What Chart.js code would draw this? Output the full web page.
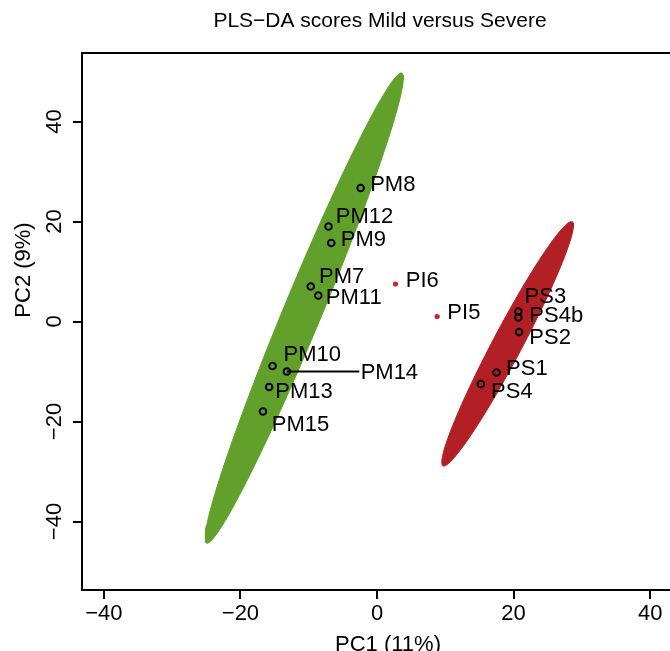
<!DOCTYPE html>
<html>
<head>
<meta charset="utf-8">
<script src="https://cdn.jsdelivr.net/npm/chart.js@4.4.1/dist/chart.umd.min.js"></script>
<style>
  html, body { margin: 0; padding: 0; background: #fff; overflow: hidden; width: 670px; height: 651px; }
  canvas { display: block; }
</style>
</head>
<body>
<canvas id="scoresChart" width="710" height="651"></canvas>
<script>
// sample scores (PC1, PC2)
const mildLabels = ['PM8', 'PM12', 'PM9', 'PM7', 'PM11', 'PM10', 'PM14', 'PM13', 'PM15'];
const mildX = [-2.4, -7.1, -6.7, -9.7, -8.6, -15.3, -13.2, -15.8, -16.7];
const mildY = [26.7, 19.0, 15.7, 7.0, 5.2, -8.9, -10.0, -13.1, -18.0];

const interLabels = ['PI6', 'PI5'];
const interX = [2.7, 8.8];
const interY = [7.5, 1.0];

const severeLabels = ['PS3', 'PS4b', 'PS2', 'PS1', 'PS4'];
const severeX = [20.7, 20.7, 20.8, 17.5, 15.2];
const severeY = [2.0, 0.8, -2.1, -10.2, -12.5];

// where the text labels ended up (left edge, middle), in PC units
const mildTextX = [-1.0, -6.05, -5.3, -8.5, -7.5, -13.7, -2.4, -14.9, -15.4];
const mildTextY = [27.3, 20.9, 16.3, 9.0, 4.8, -6.7, -10.2, -14.0, -20.7];
const interTextX = [4.2, 10.3];
const interTextY = [8.2, 1.7];
const severeTextX = [21.6, 22.3, 22.3, 18.9, 16.7];
const severeTextY = [5.0, 1.1, -3.3, -9.5, -14.0];

// PM14 label was pushed away, line goes to here
const pm14LineEnd = [-2.6, -10.0];

// group ellipses: centre, half major axis, half minor axis (PC units)
const mildCenter = [-10.67, 2.68];
const mildMajor = [14.29, 47.0];
const mildMinor = [2.57, -1.46];
const severeCenter = [19.12, -4.46];
const severeMajor = [9.45, 24.4];
const severeMinor = [1.89, -1.36];

const xTicks = [-40, -20, 0, 20, 40];
const yTicks = [-40, -20, 0, 20, 40];

const FONT = '22px "Liberation Sans", Arial, sans-serif';

function toPoints(xs, ys) {
    return xs.map((x, i) => ({ x: x, y: ys[i] }));
}

function ellipseOutline(c, a, b) {
    const pts = [];
    const n = 120;
    for (let i = 0; i <= n; i++) {
        const t = (i / n) * Math.PI * 2;
        pts.push({
            x: c[0] + a[0] * Math.cos(t) + b[0] * Math.sin(t),
            y: c[1] + a[1] * Math.cos(t) + b[1] * Math.sin(t)
        });
    }
    return pts;
}

function tickText(v) {
    return v < 0 ? '\u2212' + Math.abs(v) : String(v);
}

const framePlugin = {
    id: 'frame',
    afterDatasetsDraw(chart) {
        const ctx = chart.ctx;
        const xs = chart.scales.x;
        const ys = chart.scales.y;
        const area = chart.chartArea;

        ctx.save();
        ctx.fillStyle = '#000';
        ctx.font = FONT;
        ctx.textAlign = 'left';
        ctx.textBaseline = 'middle';
        mildLabels.forEach((l, i) => ctx.fillText(l, xs.getPixelForValue(mildTextX[i]), ys.getPixelForValue(mildTextY[i])));
        interLabels.forEach((l, i) => ctx.fillText(l, xs.getPixelForValue(interTextX[i]), ys.getPixelForValue(interTextY[i])));
        severeLabels.forEach((l, i) => ctx.fillText(l, xs.getPixelForValue(severeTextX[i]), ys.getPixelForValue(severeTextY[i])));

        // box
        ctx.strokeStyle = '#000';
        ctx.lineWidth = 2;
        ctx.strokeRect(area.left, area.top, area.right - area.left, area.bottom - area.top);

        // ticks and tick labels
        ctx.beginPath();
        xTicks.forEach(v => {
            const px = Math.round(xs.getPixelForValue(v));
            ctx.moveTo(px, area.bottom);
            ctx.lineTo(px, area.bottom + 9);
        });
        yTicks.forEach(v => {
            const py = Math.round(ys.getPixelForValue(v));
            ctx.moveTo(area.left - 9, py);
            ctx.lineTo(area.left, py);
        });
        ctx.stroke();

        ctx.textAlign = 'center';
        xTicks.forEach(v => ctx.fillText(tickText(v), xs.getPixelForValue(v), area.bottom + 24));
        yTicks.forEach(v => {
            ctx.save();
            ctx.translate(area.left - 27, ys.getPixelForValue(v));
            ctx.rotate(-Math.PI / 2);
            ctx.fillText(tickText(v), 0, 0);
            ctx.restore();
        });

        // titles
        ctx.fillText('PC1 (11%)', 388, area.bottom + 55);
        ctx.save();
        ctx.translate(24, 270);
        ctx.rotate(-Math.PI / 2);
        ctx.fillText('PC2 (9%)', 0, 0);
        ctx.restore();
        ctx.font = '21px "Liberation Sans", Arial, sans-serif';
        ctx.fillText('PLS\u2212DA scores Mild versus Severe', 380, 21);
        ctx.restore();
    }
};

const ctx = document.getElementById('scoresChart').getContext('2d');
new Chart(ctx, {
    type: 'scatter',
    data: {
        datasets: [
            {
                label: 'Mild',
                data: toPoints(mildX, mildY),
                pointRadius: 3.3,
                borderWidth: 2,
                borderColor: '#000',
                backgroundColor: 'rgba(0,0,0,0)',
                order: 0
            },
            {
                label: 'Severe',
                data: toPoints(severeX, severeY),
                pointRadius: 3.3,
                borderWidth: 2,
                borderColor: '#000',
                backgroundColor: 'rgba(0,0,0,0)',
                order: 0
            },
            {
                label: 'Intermediate',
                data: toPoints(interX, interY),
                pointRadius: 2.6,
                borderWidth: 0,
                backgroundColor: '#c1272d',
                order: 0
            },
            {
                label: 'PM14 line',
                data: [{ x: mildX[6], y: mildY[6] }, { x: pm14LineEnd[0], y: pm14LineEnd[1] }],
                showLine: true,
                pointRadius: 0,
                borderWidth: 2,
                borderColor: '#000',
                order: 1
            },
            {
                label: 'Mild ellipse',
                data: ellipseOutline(mildCenter, mildMajor, mildMinor),
                showLine: true,
                fill: 'shape',
                pointRadius: 0,
                borderWidth: 1,
                borderColor: '#60a02b',
                backgroundColor: '#60a02b',
                order: 2
            },
            {
                label: 'Severe ellipse',
                data: ellipseOutline(severeCenter, severeMajor, severeMinor),
                showLine: true,
                fill: 'shape',
                pointRadius: 0,
                borderWidth: 1,
                borderColor: '#b21f24',
                backgroundColor: '#b21f24',
                order: 2
            }
        ]
    },
    options: {
        responsive: false,
        animation: false,
        layout: {
            padding: { left: 82, top: 53, right: 12, bottom: 61 }
        },
        plugins: {
            legend: { display: false },
            tooltip: { enabled: false }
        },
        scales: {
            x: { type: 'linear', min: -43.2, max: 47.0, display: false },
            y: { type: 'linear', min: -53.7, max: 53.7, display: false }
        }
    },
    plugins: [framePlugin]
});
</script>
</body>
</html>
